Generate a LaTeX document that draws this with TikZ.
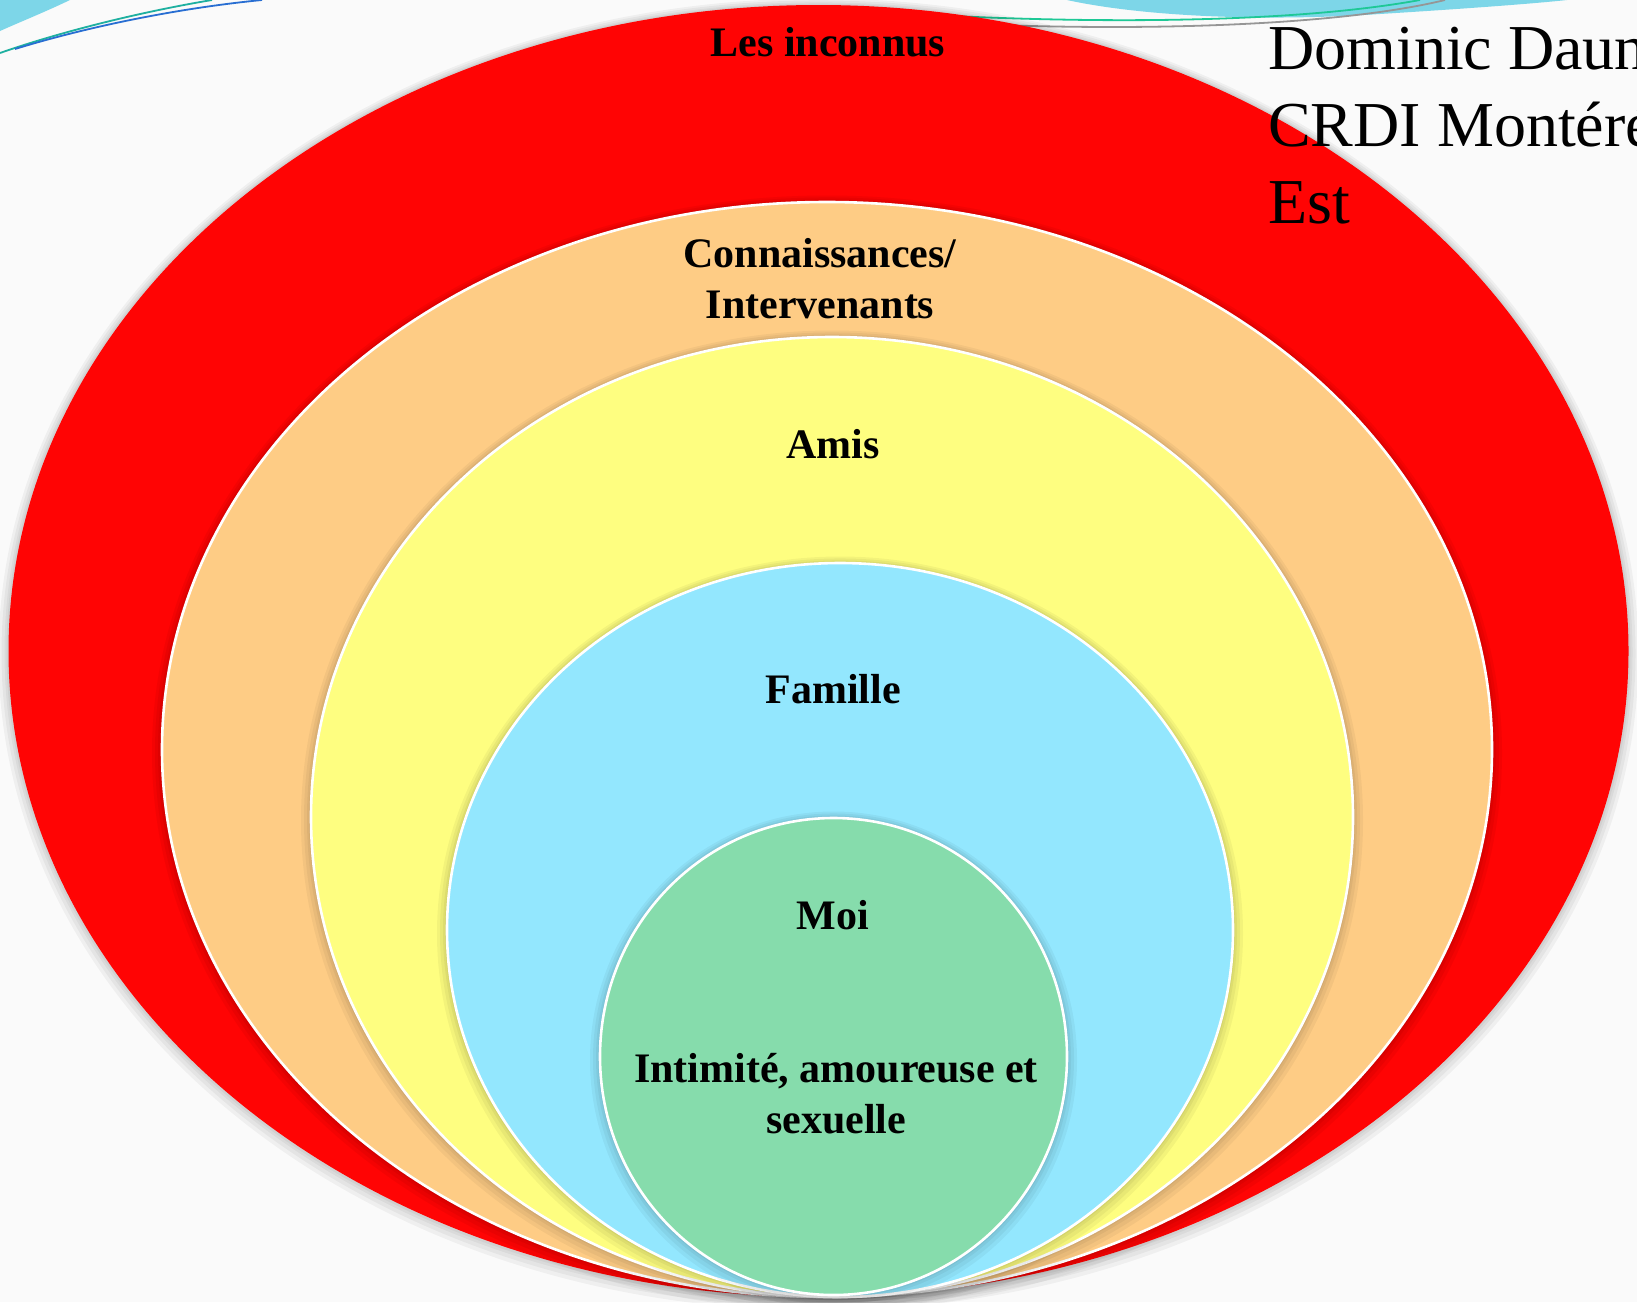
\documentclass[tikz,border=0pt]{standalone}
\usepackage{fontspec}
\setmainfont{Liberation Serif}
\definecolor{bgc}{RGB}{250,250,250}
\definecolor{cred}{RGB}{255,4,4}
\definecolor{corange}{RGB}{254,204,133}
\definecolor{cyellow}{RGB}{254,254,128}
\definecolor{cblue}{RGB}{147,231,254}
\definecolor{cgreen}{RGB}{134,220,172}
\definecolor{swcyan}{RGB}{125,214,232}
\definecolor{swteal}{RGB}{30,176,160}
\definecolor{swblue}{RGB}{40,110,210}
\definecolor{swgreen}{RGB}{30,200,150}
\definecolor{swgray}{RGB}{150,150,150}
\newcommand\ringshadow[4]{%
  \foreach \d in {10,7,4,2}{%
    \fill[black,opacity=0.045] (#1,#2+\d*0.35) ellipse [x radius=#3pt+\d pt, y radius=#4pt+\d pt];}}
\begin{document}
\begin{tikzpicture}[x=1pt,y=-1pt,
  lbl/.style={font=\bfseries\fontsize{42}{51}\selectfont, align=center, text=black, inner sep=0pt},
  author/.style={font=\fontsize{64}{77}\selectfont, align=left, text=black, inner sep=0pt, anchor=north west},
  ringline/.style={draw=white, line width=2.6pt},
  swline/.style={line width=1.8pt}]
\useasboundingbox (0,0) rectangle (1637,1302);
\fill[bgc] (0,0) rectangle (1637,1302);
% top-left swoosh
\fill[swcyan] (0,0) -- (70,0) .. controls (45,12) and (20,22) .. (0,31) -- cycle;
\draw[swline, swteal] (0,53) .. controls (60,32) and (140,12) .. (212,0);
\draw[swline, swblue] (15,49) .. controls (90,26) and (180,8) .. (262,0);
% top-right swoosh
\fill[swcyan] (1067,0) .. controls (1140,16) and (1260,22) .. (1380,14) .. controls (1460,9) and (1530,4) .. (1567,0) -- cycle;
\draw[swline, swgreen] (880,12) .. controls (1100,26) and (1300,22) .. (1420,0);
\draw[swline, swgray] (880,19) .. controls (1100,34) and (1330,28) .. (1445,0);
% rings
\ringshadow{818.5}{651}{810}{646}
\fill[cred] (818.5,651) ellipse [x radius=810pt, y radius=646pt];
\ringshadow{827}{749.5}{665}{547.5}
\fill[corange] (827,749.5) ellipse [x radius=665pt, y radius=547.5pt];
\draw[ringline] (827,749.5) ellipse [x radius=665pt, y radius=547.5pt];
\ringshadow{832}{817}{521}{480}
\fill[cyellow] (832,817) ellipse [x radius=521pt, y radius=480pt];
\draw[ringline] (832,817) ellipse [x radius=521pt, y radius=480pt];
\ringshadow{840}{930}{393}{367}
\fill[cblue] (840,930) ellipse [x radius=393pt, y radius=367pt];
\draw[ringline] (840,930) ellipse [x radius=393pt, y radius=367pt];
\ringshadow{833.5}{1056.5}{233.5}{238.5}
\fill[cgreen] (833.5,1056.5) ellipse [x radius=233.5pt, y radius=238.5pt];
\draw[ringline] (833.5,1056.5) ellipse [x radius=233.5pt, y radius=238.5pt];
% labels
\node[lbl] (inconnus) at (828,42) {Les inconnus};
\node[lbl] (connais) at (820,279) {Connaissances/\\Intervenants};
\node[lbl] (amis) at (833,444) {Amis};
\node[lbl] (famille) at (833,689) {Famille};
\node[lbl] (moi) at (833,915) {Moi};
\node[lbl] (intim) at (836,1094) {Intimité, amoureuse et\\sexuelle};
\node[author] (auteur) at (1268,27) {Dominic Daunais\\CRDI Montérégie\\Est};
\end{tikzpicture}
\end{document}
